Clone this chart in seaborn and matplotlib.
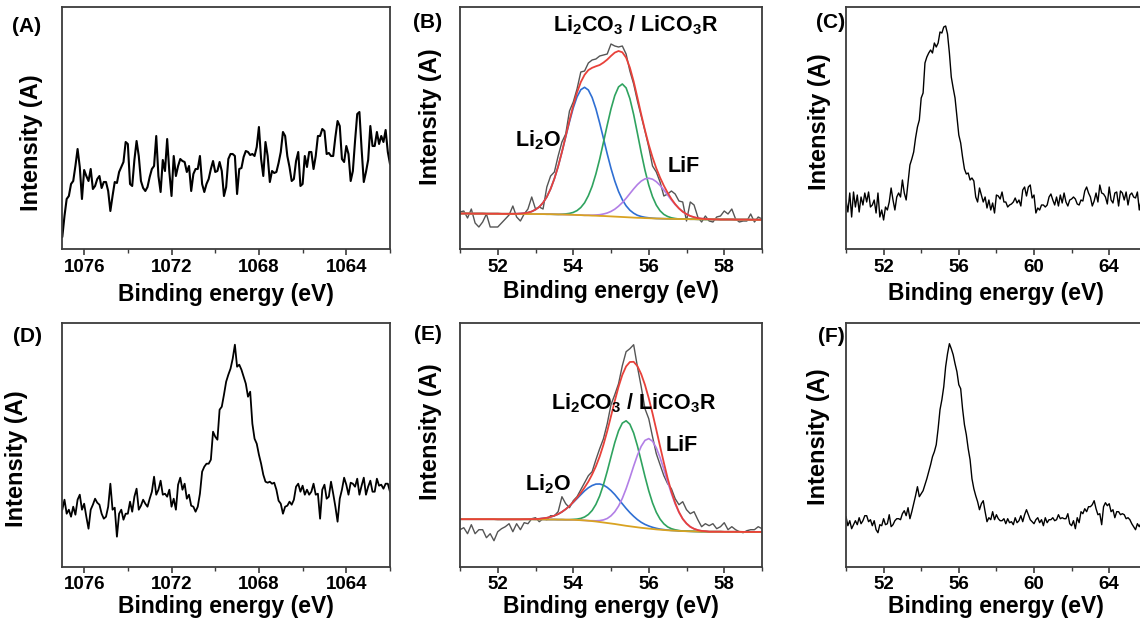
import matplotlib
matplotlib.use("Agg")
import matplotlib.pyplot as plt
from matplotlib.ticker import MultipleLocator
import numpy as np
import seaborn as sns

sns.set_style("ticks")
plt.rcParams["font.family"] = ["Liberation Sans", "DejaVu Sans"]
plt.rcParams["font.weight"] = "bold"
plt.rcParams["mathtext.default"] = "regular"
plt.rcParams["text.color"] = "black"
plt.rcParams["axes.labelcolor"] = "black"
plt.rcParams["xtick.labelcolor"] = "black"

# ---------------- Li 1s region around 1070 eV (panels A and D) ----------------
energy_fe = [
    1077.0, 1076.9, 1076.8, 1076.7, 1076.6, 1076.5, 1076.4, 1076.3, 1076.2, 1076.1,
    1076.0, 1075.9, 1075.8, 1075.7, 1075.6, 1075.5, 1075.4, 1075.3, 1075.2, 1075.1,
    1075.0, 1074.9, 1074.8, 1074.7, 1074.6, 1074.5, 1074.4, 1074.3, 1074.2, 1074.1,
    1074.0, 1073.9, 1073.8, 1073.7, 1073.6, 1073.5, 1073.4, 1073.3, 1073.2, 1073.1,
    1073.0, 1072.9, 1072.8, 1072.7, 1072.6, 1072.5, 1072.4, 1072.3, 1072.2, 1072.1,
    1072.0, 1071.9, 1071.8, 1071.7, 1071.6, 1071.5, 1071.4, 1071.3, 1071.2, 1071.1,
    1071.0, 1070.9, 1070.8, 1070.7, 1070.6, 1070.5, 1070.4, 1070.3, 1070.2, 1070.1,
    1070.0, 1069.9, 1069.8, 1069.7, 1069.6, 1069.5, 1069.4, 1069.3, 1069.2, 1069.1,
    1069.0, 1068.9, 1068.8, 1068.7, 1068.6, 1068.5, 1068.4, 1068.3, 1068.2, 1068.1,
    1068.0, 1067.9, 1067.8, 1067.7, 1067.6, 1067.5, 1067.4, 1067.3, 1067.2, 1067.1,
    1067.0, 1066.9, 1066.8, 1066.7, 1066.6, 1066.5, 1066.4, 1066.3, 1066.2, 1066.1,
    1066.0, 1065.9, 1065.8, 1065.7, 1065.6, 1065.5, 1065.4, 1065.3, 1065.2, 1065.1,
    1065.0, 1064.9, 1064.8, 1064.7, 1064.6, 1064.5, 1064.4, 1064.3, 1064.2, 1064.1,
    1064.0, 1063.9, 1063.8, 1063.7, 1063.6, 1063.5, 1063.4, 1063.3, 1063.2, 1063.1,
    1063.0, 1062.9, 1062.8, 1062.7, 1062.6, 1062.5, 1062.4, 1062.3, 1062.2, 1062.1,
    1062.0,
]
intensity_a = [
    12, 33, 50, 53, 65, 68, 83, 100, 82, 50,
    79, 73, 68, 80, 60, 63, 70, 73, 61, 67,
    67, 58, 38, 53, 67, 66, 77, 82, 87, 107,
    105, 65, 63, 89, 108, 93, 68, 61, 58, 62,
    72, 80, 83, 113, 73, 57, 89, 78, 110, 77,
    53, 93, 73, 83, 90, 88, 87, 77, 83, 58,
    75, 80, 80, 93, 65, 57, 65, 70, 80, 88,
    77, 78, 87, 78, 53, 62, 90, 95, 95, 93,
    55, 80, 81, 92, 98, 97, 94, 95, 93, 102,
    122, 90, 73, 107, 93, 67, 78, 76, 77, 86,
    97, 117, 113, 93, 82, 68, 70, 88, 97, 63,
    65, 93, 82, 97, 97, 80, 93, 113, 113, 120,
    118, 95, 96, 93, 93, 112, 128, 123, 90, 87,
    103, 95, 68, 78, 108, 135, 137, 100, 67, 77,
    89, 123, 103, 103, 117, 105, 113, 107, 119, 97,
    85,
]
intensity_d = [
    57, 67, 53, 57, 50, 60, 52, 67, 72, 57,
    63, 50, 38, 57, 62, 68, 64, 62, 53, 48,
    50, 60, 83, 57, 59, 30, 53, 57, 47, 53,
    53, 65, 55, 70, 78, 57, 61, 67, 63, 60,
    68, 75, 90, 72, 77, 86, 72, 73, 70, 77,
    60, 68, 57, 82, 89, 77, 83, 68, 72, 61,
    60, 55, 60, 73, 95, 100, 103, 103, 107, 135,
    130, 127, 157, 160, 172, 185, 192, 198, 208, 222,
    200, 202, 197, 190, 183, 170, 175, 143, 128, 123,
    112, 103, 92, 85, 84, 85, 83, 84, 77, 66,
    63, 53, 60, 61, 65, 62, 67, 80, 83, 75,
    81, 72, 77, 72, 75, 83, 72, 73, 48, 77,
    82, 68, 70, 85, 73, 60, 45, 68, 77, 89,
    82, 72, 84, 83, 80, 88, 72, 81, 89, 72,
    80, 86, 75, 75, 88, 81, 82, 78, 83, 83,
    75,
]

# ---------------- wide scan 50-66 eV (panels C and F) ----------------
energy_wide = [
    50.0, 50.1, 50.2, 50.3, 50.4, 50.5, 50.6, 50.7, 50.8, 50.9,
    51.0, 51.1, 51.2, 51.3, 51.4, 51.5, 51.6, 51.7, 51.8, 51.9,
    52.0, 52.1, 52.2, 52.3, 52.4, 52.5, 52.6, 52.7, 52.8, 52.9,
    53.0, 53.1, 53.2, 53.3, 53.4, 53.5, 53.6, 53.7, 53.8, 53.9,
    54.0, 54.1, 54.2, 54.3, 54.4, 54.5, 54.6, 54.7, 54.8, 54.9,
    55.0, 55.1, 55.2, 55.3, 55.4, 55.5, 55.6, 55.7, 55.8, 55.9,
    56.0, 56.1, 56.2, 56.3, 56.4, 56.5, 56.6, 56.7, 56.8, 56.9,
    57.0, 57.1, 57.2, 57.3, 57.4, 57.5, 57.6, 57.7, 57.8, 57.9,
    58.0, 58.1, 58.2, 58.3, 58.4, 58.5, 58.6, 58.7, 58.8, 58.9,
    59.0, 59.1, 59.2, 59.3, 59.4, 59.5, 59.6, 59.7, 59.8, 59.9,
    60.0, 60.1, 60.2, 60.3, 60.4, 60.5, 60.6, 60.7, 60.8, 60.9,
    61.0, 61.1, 61.2, 61.3, 61.4, 61.5, 61.6, 61.7, 61.8, 61.9,
    62.0, 62.1, 62.2, 62.3, 62.4, 62.5, 62.6, 62.7, 62.8, 62.9,
    63.0, 63.1, 63.2, 63.3, 63.4, 63.5, 63.6, 63.7, 63.8, 63.9,
    64.0, 64.1, 64.2, 64.3, 64.4, 64.5, 64.6, 64.7, 64.8, 64.9,
    65.0, 65.1, 65.2, 65.3, 65.4, 65.5, 65.6, 65.7, 65.8, 65.9,
    66.0,
]
intensity_c = [
    49, 37, 56, 32, 57, 42, 54, 37, 52, 44,
    56, 47, 57, 42, 44, 49, 36, 56, 32, 39,
    29, 42, 39, 47, 61, 49, 39, 52, 56, 52,
    69, 56, 49, 66, 84, 90, 97, 111, 122, 129,
    151, 156, 186, 192, 196, 199, 196, 206, 202, 206,
    217, 216, 222, 223, 215, 196, 172, 161, 151, 132,
    114, 106, 92, 80, 75, 76, 69, 71, 68, 52,
    47, 61, 54, 47, 52, 41, 49, 39, 46, 36,
    54, 53, 50, 57, 47, 47, 42, 44, 45, 47,
    51, 46, 49, 43, 59, 62, 53, 62, 64, 51,
    54, 36, 41, 39, 44, 44, 42, 44, 52, 55,
    49, 44, 52, 43, 54, 46, 56, 47, 43, 49,
    50, 52, 50, 45, 44, 49, 48, 58, 62, 56,
    52, 43, 48, 56, 47, 64, 56, 55, 52, 45,
    62, 49, 46, 56, 57, 43, 58, 56, 49, 57,
    44, 54, 56, 52, 51, 57, 39, 49, 52, 47,
    50,
]
intensity_f = [
    50, 41, 46, 38, 42, 46, 42, 49, 43, 46,
    51, 51, 45, 47, 41, 46, 37, 34, 42, 41,
    48, 42, 43, 52, 40, 42, 46, 48, 48, 47,
    53, 56, 51, 59, 48, 55, 63, 71, 80, 70,
    73, 76, 82, 88, 95, 102, 110, 115, 122, 138,
    157, 167, 180, 200, 213, 223, 218, 212, 203, 195,
    182, 178, 158, 142, 132, 118, 107, 88, 78, 71,
    65, 57, 63, 66, 55, 45, 49, 47, 55, 47,
    52, 48, 46, 46, 48, 43, 48, 44, 45, 42,
    49, 44, 46, 51, 45, 52, 57, 52, 47, 45,
    43, 47, 49, 44, 47, 41, 49, 44, 47, 47,
    49, 46, 47, 52, 48, 49, 48, 48, 53, 43,
    41, 46, 38, 49, 44, 55, 53, 58, 55, 60,
    60, 62, 66, 58, 52, 53, 42, 60, 64, 61,
    63, 55, 57, 49, 55, 55, 52, 53, 52, 48,
    49, 47, 43, 40, 37, 43, 40, 44, 41, 45,
    43,
]

# ---------------- fitted Li 1s spectra 51-59 eV (panels B and E) ----------------
energy_li = [
    51.0, 51.1, 51.2, 51.3, 51.4, 51.5, 51.6, 51.7, 51.8, 51.9,
    52.0, 52.1, 52.2, 52.3, 52.4, 52.5, 52.6, 52.7, 52.8, 52.9,
    53.0, 53.1, 53.2, 53.3, 53.4, 53.5, 53.6, 53.7, 53.8, 53.9,
    54.0, 54.1, 54.2, 54.3, 54.4, 54.5, 54.6, 54.7, 54.8, 54.9,
    55.0, 55.1, 55.2, 55.3, 55.4, 55.5, 55.6, 55.7, 55.8, 55.9,
    56.0, 56.1, 56.2, 56.3, 56.4, 56.5, 56.6, 56.7, 56.8, 56.9,
    57.0, 57.1, 57.2, 57.3, 57.4, 57.5, 57.6, 57.7, 57.8, 57.9,
    58.0, 58.1, 58.2, 58.3, 58.4, 58.5, 58.6, 58.7, 58.8, 58.9,
    59.0,
]
raw_b = [
    37, 38, 31, 40, 26, 22, 27, 35, 22, 22,
    22, 26, 30, 34, 43, 32, 28, 35, 40, 52,
    40, 42, 40, 62, 73, 77, 93, 107, 115, 138,
    147, 160, 177, 178, 186, 189, 190, 193, 194, 195,
    205, 203, 202, 203, 195, 178, 165, 148, 133, 118,
    102, 83, 77, 67, 53, 55, 58, 55, 48, 47,
    28, 47, 44, 32, 27, 33, 28, 27, 32, 33,
    38, 35, 40, 30, 27, 28, 28, 35, 27, 32,
    30,
]
bg_b = [
    35.5, 35.5, 35.5, 35.4, 35.4, 35.4, 35.4, 35.3, 35.3, 35.3,
    35.3, 35.2, 35.2, 35.2, 35.2, 35.1, 35.1, 35.0, 35.0, 35.0,
    35.0, 34.9, 34.9, 34.8, 34.8, 34.7, 34.6, 34.5, 34.4, 34.3,
    34.2, 34.0, 33.9, 33.7, 33.6, 33.4, 33.3, 33.1, 33.0, 32.8,
    32.6, 32.4, 32.2, 32.0, 31.8, 31.6, 31.4, 31.2, 31.1, 30.9,
    30.8, 30.6, 30.5, 30.4, 30.3, 30.2, 30.1, 30.0, 30.0, 29.9,
    29.9, 29.8, 29.8, 29.7, 29.7, 29.6, 29.6, 29.6, 29.6, 29.5,
    29.5, 29.5, 29.5, 29.4, 29.4, 29.4, 29.4, 29.3, 29.3, 29.3,
    29.3,
]
li2o_b = [
    0, 0, 0, 0, 0, 0, 0, 0, 0, 0,
    0, 0, 0, 0, 0, 0.2, 0.4, 0.8, 1.4, 2.5,
    4.4, 7.2, 11.4, 17.3, 25.3, 35.6, 48.0, 62.3, 77.7, 92.9,
    106.9, 118.1, 125.4, 128.0, 125.4, 118.1, 106.9, 92.9, 77.7, 62.3,
    48.0, 35.6, 25.3, 17.3, 11.4, 7.2, 4.4, 2.5, 1.4, 0.8,
    0.4, 0.2, 0, 0, 0, 0, 0, 0, 0, 0,
    0, 0, 0, 0, 0, 0, 0, 0, 0, 0,
    0, 0, 0, 0, 0, 0, 0, 0, 0, 0,
    0,
]
li2co3_b = [
    0, 0, 0, 0, 0, 0, 0, 0, 0, 0,
    0, 0, 0, 0, 0, 0, 0, 0, 0, 0,
    0, 0, 0, 0, 0, 0, 0, 0.3, 0.7, 1.3,
    2.4, 4.4, 7.6, 12.5, 19.7, 29.3, 41.8, 56.8, 73.7, 91.1,
    107.5, 121.0, 129.9, 133.0, 129.3, 118.8, 103.1, 84.5, 65.4, 47.9,
    33.1, 21.7, 13.4, 7.8, 4.3, 2.3, 1.1, 0.5, 0, 0,
    0, 0, 0, 0, 0, 0, 0, 0, 0, 0,
    0, 0, 0, 0, 0, 0, 0, 0, 0, 0,
    0,
]
lif_b = [
    0, 0, 0, 0, 0, 0, 0, 0, 0, 0,
    0, 0, 0, 0, 0, 0, 0, 0, 0, 0,
    0, 0, 0, 0, 0, 0, 0, 0, 0, 0,
    0, 0, 0, 0, 0.2, 0.4, 0.7, 1.2, 2.0, 3.2,
    5.0, 7.4, 10.6, 14.4, 18.9, 23.8, 28.7, 33.2, 36.8, 39.2,
    40.0, 39.2, 36.8, 33.2, 28.7, 23.8, 18.9, 14.4, 10.6, 7.4,
    5.0, 3.2, 2.0, 1.2, 0.7, 0.4, 0.2, 0, 0, 0,
    0, 0, 0, 0, 0, 0, 0, 0, 0, 0,
    0,
]
raw_e = [
    37, 39, 33, 42, 33, 37, 37, 29, 33, 26,
    35, 38, 40, 43, 35, 43, 37, 44, 43, 48,
    49, 45, 48, 47, 51, 51, 55, 70, 63, 59,
    66, 70, 77, 84, 91, 95, 107, 118, 128, 143,
    162, 172, 183, 201, 215, 218, 222, 200, 180, 158,
    148, 130, 113, 102, 91, 83, 78, 68, 62, 65,
    57, 53, 55, 47, 40, 43, 41, 43, 38, 40,
    44, 37, 40, 37, 35, 34, 36, 37, 37, 40,
    38,
]
bg_e = [
    47.5, 47.5, 47.5, 47.5, 47.5, 47.5, 47.5, 47.5, 47.5, 47.5,
    47.4, 47.4, 47.4, 47.4, 47.4, 47.4, 47.4, 47.4, 47.4, 47.4,
    47.3, 47.3, 47.3, 47.2, 47.2, 47.2, 47.1, 47.1, 47.0, 47.0,
    46.9, 46.7, 46.5, 46.3, 46.0, 45.6, 45.2, 44.7, 44.2, 43.7,
    43.2, 42.7, 42.1, 41.5, 40.9, 40.4, 39.9, 39.4, 38.9, 38.5,
    38.1, 37.7, 37.3, 37.0, 36.7, 36.4, 36.2, 36.0, 35.8, 35.6,
    35.5, 35.4, 35.3, 35.2, 35.1, 35.1, 35.0, 35.0, 35.0, 35.0,
    34.9, 34.9, 34.9, 34.9, 34.9, 34.8, 34.8, 34.8, 34.8, 34.8,
    34.8,
]
li2o_e = [
    0, 0, 0, 0, 0, 0, 0, 0, 0, 0,
    0, 0, 0, 0, 0, 0, 0, 0.1, 0.1, 0.2,
    0.4, 0.6, 1.1, 1.7, 2.6, 3.8, 5.5, 7.7, 10.5, 13.7,
    17.4, 21.4, 25.5, 29.5, 32.9, 35.6, 37.4, 38.0, 37.4, 35.6,
    32.9, 29.5, 25.5, 21.4, 17.4, 13.7, 10.5, 7.7, 5.5, 3.8,
    2.6, 1.7, 1.1, 0.6, 0.4, 0.2, 0.1, 0.1, 0, 0,
    0, 0, 0, 0, 0, 0, 0, 0, 0, 0,
    0, 0, 0, 0, 0, 0, 0, 0, 0, 0,
    0,
]
li2co3_e = [
    0, 0, 0, 0, 0, 0, 0, 0, 0, 0,
    0, 0, 0, 0, 0, 0, 0, 0, 0, 0,
    0, 0, 0, 0, 0, 0, 0, 0, 0, 0,
    0.4, 0.9, 1.8, 3.4, 6.2, 10.6, 17.1, 26.1, 37.8, 51.7,
    66.7, 81.4, 93.8, 102.1, 105.0, 102.1, 93.8, 81.4, 66.7, 51.7,
    37.8, 26.1, 17.1, 10.6, 6.2, 3.4, 1.8, 0.9, 0.4, 0,
    0, 0, 0, 0, 0, 0, 0, 0, 0, 0,
    0, 0, 0, 0, 0, 0, 0, 0, 0, 0,
    0,
]
lif_e = [
    0, 0, 0, 0, 0, 0, 0, 0, 0, 0,
    0, 0, 0, 0, 0, 0, 0, 0, 0, 0,
    0, 0, 0, 0, 0, 0, 0, 0, 0, 0,
    0, 0, 0, 0, 0, 0.4, 0.7, 1.4, 2.6, 4.5,
    7.7, 12.2, 18.5, 26.8, 37.0, 48.5, 60.7, 72.1, 81.5, 87.8,
    90.0, 87.8, 81.5, 72.1, 60.7, 48.5, 37.0, 26.8, 18.5, 12.2,
    7.7, 4.5, 2.6, 1.4, 0.7, 0.4, 0, 0, 0, 0,
    0, 0, 0, 0, 0, 0, 0, 0, 0, 0,
    0,
]

SPINE = "#3c3c3c"
RAW_GREY = "#555555"
C_LI2O = "#2f6fd3"
C_LI2CO3 = "#2fa35f"
C_LIF = "#b27fe6"
C_ENV = "#e8413a"
C_BG = "#d9a322"


def style_axis(ax, xlim, ylim, major, minor, labelpad):
    ax.set_xlim(*xlim)
    ax.set_ylim(*ylim)
    ax.set_yticks([])
    ax.xaxis.set_major_locator(MultipleLocator(major))
    ax.xaxis.set_minor_locator(MultipleLocator(minor))
    ax.tick_params(axis="x", which="major", direction="out", length=4, width=1.2,
                   labelsize=13.5, pad=3, color=SPINE, labelcolor="black")
    ax.tick_params(axis="x", which="minor", direction="out", length=3, width=1.0, color=SPINE)
    for s in ax.spines.values():
        s.set_visible(True)
        s.set_linewidth(1.3)
        s.set_color(SPINE)
    ax.set_xlabel("Binding energy (eV)", fontsize=16.5, fontweight="bold",
                  labelpad=labelpad, color="black")
    ax.set_ylabel("")


def draw_fit(ax, raw, bg, li2o, li2co3, lif):
    bg = np.array(bg)
    envelope = bg + np.array(li2o) + np.array(li2co3) + np.array(lif)
    sns.lineplot(x=energy_li, y=raw, ax=ax, color=RAW_GREY, linewidth=1.0, estimator=None, sort=False)
    sns.lineplot(x=energy_li, y=bg + np.array(li2o), ax=ax, color=C_LI2O, linewidth=1.2, estimator=None, sort=False)
    sns.lineplot(x=energy_li, y=bg + np.array(li2co3), ax=ax, color=C_LI2CO3, linewidth=1.2, estimator=None, sort=False)
    sns.lineplot(x=energy_li, y=bg + np.array(lif), ax=ax, color=C_LIF, linewidth=1.2, estimator=None, sort=False)
    sns.lineplot(x=energy_li, y=bg, ax=ax, color=C_BG, linewidth=1.3, estimator=None, sort=False)
    sns.lineplot(x=energy_li, y=envelope, ax=ax, color=C_ENV, linewidth=1.3, estimator=None, sort=False)


fig = plt.figure(figsize=(11.4, 6.25), dpi=100)
W, H = 1140.0, 625.0


def add_axes(left, top, right, bottom):
    return fig.add_axes([left / W, 1 - bottom / H, (right - left) / W, (bottom - top) / H])


ax_a = add_axes(62.3, 7, 390, 249)
ax_b = add_axes(460, 7, 762, 249)
ax_c = add_axes(846, 7, 1146.8, 249)
ax_d = add_axes(62.3, 323.3, 390, 566.7)
ax_e = add_axes(460, 323.3, 762, 566.7)
ax_f = add_axes(846, 323.3, 1146.8, 566.7)

# A and D: noisy region near 1070 eV
sns.lineplot(x=energy_fe, y=intensity_a, ax=ax_a, color="black", linewidth=1.5, estimator=None, sort=False)
sns.lineplot(x=energy_fe, y=intensity_d, ax=ax_d, color="black", linewidth=1.3, estimator=None, sort=False)
style_axis(ax_a, (1077, 1062), (0, 242), 4, 2, 5.5)
style_axis(ax_d, (1077, 1062), (0, 243.4), 4, 2, 1)

# B and E: fitted Li 1s
draw_fit(ax_b, raw_b, bg_b, li2o_b, li2co3_b, lif_b)
draw_fit(ax_e, raw_e, bg_e, li2o_e, li2co3_e, lif_e)
style_axis(ax_b, (51, 59), (0, 242), 2, 1, 3)
style_axis(ax_e, (51, 59), (0, 243.4), 2, 1, 1)

# C and F: wide scans
sns.lineplot(x=energy_wide, y=intensity_c, ax=ax_c, color="black", linewidth=1.0, estimator=None, sort=False)
sns.lineplot(x=energy_wide, y=intensity_f, ax=ax_f, color="black", linewidth=1.0, estimator=None, sort=False)
style_axis(ax_c, (50, 66), (0, 242), 4, 2, 4.5)
style_axis(ax_f, (50, 66), (0, 243.4), 4, 2, 1)

# peak labels
ann = dict(fontsize=15.5, fontweight="bold", ha="center", va="center", color="black")
ax_b.text(0.583, 0.926, r"Li$_2$CO$_3$ / LiCO$_3$R", transform=ax_b.transAxes, **ann)
ax_b.text(0.257, 0.45, r"Li$_2$O", transform=ax_b.transAxes, **ann)
ax_b.text(0.74, 0.341, "LiF", transform=ax_b.transAxes, **ann)
ax_e.text(0.576, 0.673, r"Li$_2$CO$_3$ / LiCO$_3$R", transform=ax_e.transAxes, **ann)
ax_e.text(0.735, 0.498, "LiF", transform=ax_e.transAxes, **ann)
ax_e.text(0.293, 0.34, r"Li$_2$O", transform=ax_e.transAxes, **ann)

# y labels and panel letters (figure pixel positions)
ylabels = [(31.7, 142.5), (431, 116.7), (819.5, 122), (17, 459), (431, 431.7), (818, 436.7)]
for x, y in ylabels:
    fig.text(x / W, 1 - y / H, "Intensity (A)", rotation=90, ha="center", va="center",
             fontsize=17, fontweight="bold", color="black")

panels = [("(A)", 27, 26), ("(B)", 427.5, 23), ("(C)", 831, 23),
          ("(D)", 27.5, 336.5), ("(E)", 427.5, 334), ("(F)", 831, 336)]
for label, x, y in panels:
    fig.text(x / W, 1 - y / H, label, ha="center", va="center", fontsize=15,
             fontweight="bold", color="black")

fig.savefig("out.png", dpi=100)
